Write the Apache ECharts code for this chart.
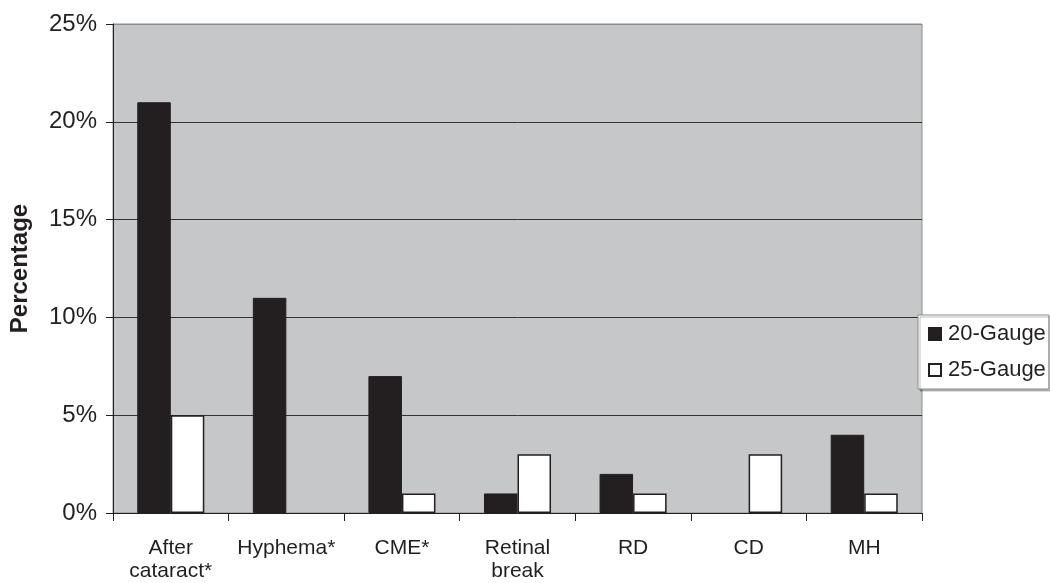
<!DOCTYPE html>
<html>
<head>
<meta charset="utf-8">
<script src="https://cdn.jsdelivr.net/npm/echarts@6/dist/echarts.min.js"></script>
<style>
html,body{margin:0;padding:0;background:#fff;}
#chart{width:1050px;height:583px;}
</style>
</head>
<body>
<div id="chart"></div>
<script>
const categories = ['After\ncataract*', 'Hyphema*', 'CME*', 'Retinal\nbreak', 'RD', 'CD', 'MH'];
const gauge20 = [21, 11, 7, 1, 2, 0, 4];
const gauge25 = [5, 0, 1, 3, 1, 3, 1];
const yTicks = { min: 0, max: 25, interval: 5 };

const ink = '#231f20';
const font = 'Liberation Sans, Arial, sans-serif';

// hide outline for zero-height bars
const noZeroOutline = arr => arr.map(v => v === 0 ? { value: v, itemStyle: { borderWidth: 0, opacity: 0 } } : v);

const chart = echarts.init(document.getElementById('chart'));
chart.setOption({
  animation: false,
  textStyle: { fontFamily: font, color: ink },
  grid: {
    left: 113, right: 128, top: 24, bottom: 69,
    show: true, backgroundColor: '#c6c7c9', borderColor: '#8a8a8a', borderWidth: 1
  },
  legend: {
    orient: 'vertical',
    left: 918, top: 315,
    padding: [8, 3, 8, 10],
    itemWidth: 12, itemHeight: 12, itemGap: 14,
    backgroundColor: '#fff',
    borderColor: '#8a8a8a', borderWidth: 1,
    shadowColor: 'rgba(0,0,0,0.25)', shadowOffsetX: 2, shadowOffsetY: 2, shadowBlur: 0,
    icon: 'rect',
    textStyle: { fontSize: 22, color: ink, fontFamily: font, padding: [0, 0, 0, 2] },
    data: ['20-Gauge', '25-Gauge'],
    z: 10
  },
  xAxis: {
    type: 'category',
    data: categories,
    axisLine: { lineStyle: { color: ink, width: 1 } },
    axisTick: { show: true, length: 8, alignWithLabel: false, lineStyle: { color: ink } },
    axisLabel: { fontSize: 21, color: ink, margin: 24, lineHeight: 23, fontFamily: font, interval: 0 }
  },
  yAxis: {
    type: 'value',
    min: yTicks.min, max: yTicks.max, interval: yTicks.interval,
    name: 'Percentage',
    nameLocation: 'middle',
    nameGap: 81,
    nameTextStyle: { fontSize: 24, fontWeight: 'bold', color: ink, fontFamily: font },
    axisLine: { show: true, lineStyle: { color: ink, width: 1 } },
    axisTick: { show: true, length: 7, lineStyle: { color: ink } },
    axisLabel: { fontSize: 24, color: ink, margin: 16, formatter: '{value}%', fontFamily: font },
    splitLine: { show: true, lineStyle: { color: ['#333', '#333', '#333', '#333', '#333', '#8a8a8a'], width: 1 } }
  },
  series: [
    {
      name: '20-Gauge', type: 'bar', data: noZeroOutline(gauge20),
      barGap: '0%', barCategoryGap: '42%',
      itemStyle: { color: ink, borderColor: ink, borderWidth: 1 }
    },
    {
      name: '25-Gauge', type: 'bar', data: noZeroOutline(gauge25),
      barGap: '0%', barCategoryGap: '42%',
      itemStyle: { color: '#ffffff', borderColor: ink, borderWidth: 1.5 }
    }
  ]
});
</script>
</body>
</html>
